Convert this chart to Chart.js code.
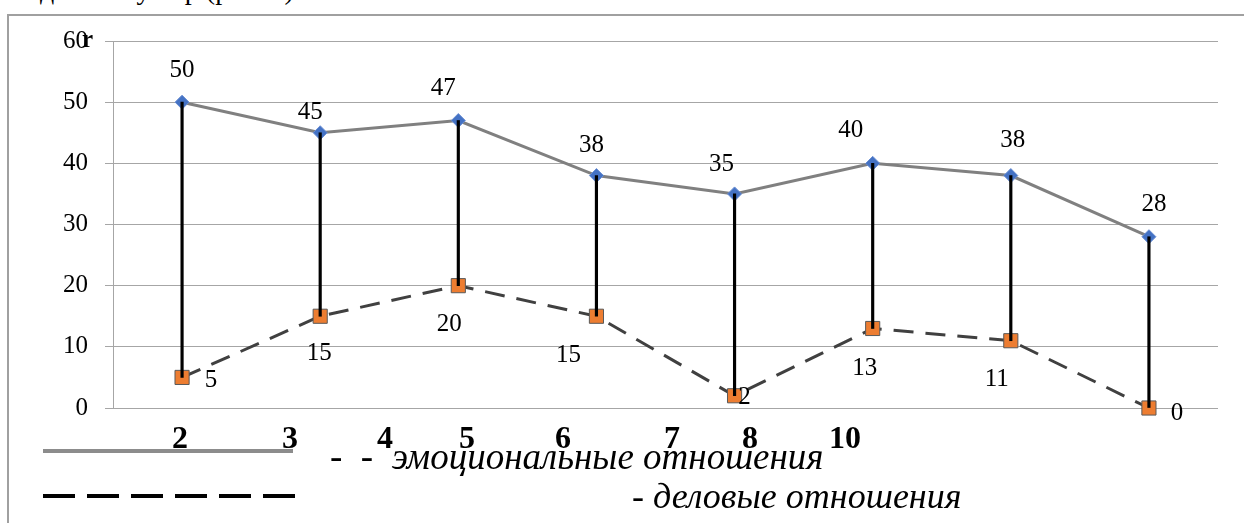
<!DOCTYPE html>
<html lang="ru">

<head>
    <meta charset="UTF-8">
    <title>Эмоциональные и деловые отношения</title>
    <script src="https://cdn.jsdelivr.net/npm/chart.js"></script>
    <style>
        html, body { margin: 0; padding: 0; background: #fff; }
        #page { position: relative; width: 1244px; height: 523px; overflow: hidden; font-family: "Liberation Serif", "Times New Roman", serif; }
        #frame { position: absolute; left: 7px; top: 14px; right: -10px; bottom: -10px; border-top: 2px solid #a0a0a0; border-left: 2px solid #a0a0a0; }
        #chartBox { position: absolute; left: 0; top: 0; width: 1244px; height: 523px; }
        .abs { position: absolute; white-space: nowrap; color: #000; }
        .num { font-weight: bold; font-size: 32px; line-height: 32px; transform: translate(-50%, -50%); }
        .leg { font-style: italic; font-size: 36px; line-height: 36px; }
        #lineSolid { position: absolute; left: 43px; top: 449px; width: 250px; height: 4px; background: #8c8c8c; }
        #lineDash { position: absolute; left: 43px; top: 494px; width: 252px; height: 4px;
            background: repeating-linear-gradient(to right, #000 0 32px, transparent 32px 44px); }
    </style>
</head>

<body>
    <div id="page">
        <div class="abs" style="left: 40px; top: -26px; font-size: 28px;">данных у пар (рис. 2).</div>
        <div id="frame"></div>
        <div id="chartBox"><canvas id="chart"></canvas></div>
        <div class="abs" style="left: 82px; top: 26px; font-size: 25px; font-weight: bold; line-height: 25px;">r</div>
        <div id="notes"></div>
        <div id="lineSolid"></div>
        <div id="lineDash"></div>
        <div class="abs leg" style="left: 330px; top: 439px; font-size: 37px;">-&nbsp;&nbsp;-&nbsp; эмоциональные отношения</div>
        <div class="abs leg" style="left: 632px; top: 478px;">- деловые отношения</div>
    </div>

    <script>
        // данные
        const categories = ['1', '2', '3', '4', '5', '6', '7', '8'];
        const emotional = [50, 45, 47, 38, 35, 40, 38, 28];
        const business = [5, 15, 20, 15, 2, 13, 11, 0];
        const yTicks = [0, 10, 20, 30, 40, 50, 60];
        const notes = ['2', '3', '4', '5', '6', '7', '8', '10'];

        // где стоят подписи (сдвиг от точки, px)
        const noteX = [180, 290, 385, 467, 563, 672, 750, 845];
        const emoShift = [[0, -32], [-10, -20], [-15, -32], [-5, -30], [-13, -29], [-22, -33], [2, -35], [5, -32]];
        const busShift = [[29, 3], [-1, 37], [-9, 39], [-28, 39], [10, 2], [-8, 40], [-14, 39], [28, 5]];

        const serif = 'Liberation Serif, Times New Roman, serif';

        const notesBox = document.getElementById('notes');
        notes.forEach((t, i) => {
            const s = document.createElement('div');
            s.className = 'abs num';
            s.style.left = noteX[i] + 'px';
            s.style.top = '437px';
            s.textContent = t;
            notesBox.appendChild(s);
        });

        const valueLabels = {
            id: 'valueLabels',
            afterDatasetsDraw(chart) {
                const ctx = chart.ctx;
                ctx.save();
                ctx.font = '25px ' + serif;
                ctx.fillStyle = '#000';
                ctx.textAlign = 'center';
                ctx.textBaseline = 'middle';
                [[0, emotional, emoShift], [1, business, busShift]].forEach(([di, vals, shift]) => {
                    chart.getDatasetMeta(di).data.forEach((pt, i) => {
                        ctx.fillText(String(vals[i]), pt.x + shift[i][0], pt.y + shift[i][1]);
                    });
                });
                ctx.restore();
            }
        };

        function createChart() {
            Chart.defaults.font.family = serif;
            const ctx = document.getElementById('chart').getContext('2d');
            new Chart(ctx, {
                type: 'line',
                data: {
                    labels: categories,
                    datasets: [{
                        label: 'эмоциональные отношения',
                        data: emotional,
                        borderColor: '#808080',
                        borderWidth: 3,
                        pointStyle: 'rectRot',
                        pointRadius: 7,
                        pointBackgroundColor: '#4472C4',
                        pointBorderColor: '#6a8ed2',
                        pointBorderWidth: 1,
                        clip: false,
                        order: 1
                    }, {
                        label: 'деловые отношения',
                        data: business,
                        borderColor: '#404040',
                        borderWidth: 3,
                        borderDash: [20, 12],
                        pointStyle: 'rect',
                        pointRadius: 10,
                        pointBackgroundColor: '#ED7D31',
                        pointBorderColor: '#5a5a5a',
                        pointBorderWidth: 1,
                        clip: false,
                        order: 2
                    }, {
                        type: 'bar',
                        label: 'разница',
                        data: emotional.map((v, i) => [business[i], v]),
                        backgroundColor: '#000',
                        barThickness: 2.5,
                        clip: false,
                        order: 0
                    }]
                },
                options: {
                    responsive: true,
                    maintainAspectRatio: false,
                    animation: false,
                    layout: { padding: { left: 0, top: 41, right: 26, bottom: 115 } },
                    plugins: { legend: { display: false }, tooltip: { enabled: false } },
                    scales: {
                        x: { display: false, offset: true },
                        y: {
                            min: 0,
                            max: 60,
                            afterFit: (scale) => { scale.width = 113; },
                            afterBuildTicks: (scale) => { scale.ticks = yTicks.map(v => ({ value: v })); },
                            ticks: {
                                color: '#000',
                                padding: 17,
                                font: { family: serif, size: 25 }
                            },
                            grid: { color: '#a6a6a6', lineWidth: 1, tickLength: 8 },
                            border: { color: '#a6a6a6', width: 1 }
                        }
                    }
                },
                plugins: [valueLabels]
            });
        }

        document.fonts.load('24px "Liberation Serif"').then(createChart, createChart);
    </script>
</body>

</html>
